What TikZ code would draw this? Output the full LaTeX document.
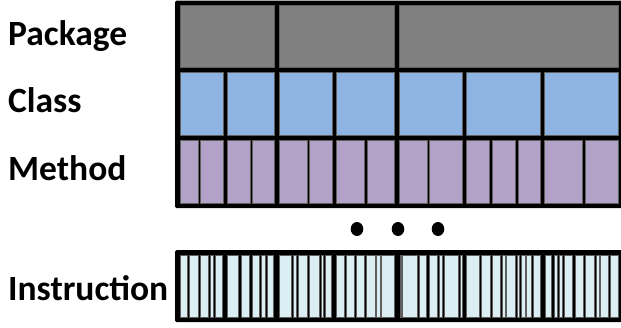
\documentclass[tikz,border=0pt]{standalone}
\usepackage{fontspec}
\setmainfont{Carlito}
\definecolor{pkg}{HTML}{808080}
\definecolor{cls}{HTML}{8EB4E3}
\definecolor{mth}{HTML}{B3A2C7}
\definecolor{ins}{HTML}{DBEEF3}
\definecolor{celledge}{HTML}{5F5F5F}
\begin{document}
\begin{tikzpicture}[x=1pt,y=-1pt,
  cellbox/.style={draw=celledge, line width=0.5pt},
  lbl/.style={anchor=base west, inner sep=0pt, font=\fontsize{35.5}{40}\selectfont\bfseries}]
\useasboundingbox (0,0) rectangle (621,327);
% top block frame
\fill[black, rounded corners=1.5pt] (175,0.5) rectangle (623,208);
\foreach \a/\b in {180/274,279/394,399/618}
  \filldraw[cellbox, fill=pkg] (\a,5) rectangle (\b,67);
\foreach \a/\b in {180/223,227/274,279/332,336/394,399/462,466/540,544/618}
  \filldraw[cellbox, fill=cls] (\a,72) rectangle (\b,135);
\foreach \a/\b in {180/198,200/223,227/250,252/274,279/307,309/332,336/364,367/394,399/427,429/462,466/489,492/515,518/540,544/582,585/618}
  \filldraw[cellbox, fill=mth] (\a,140) rectangle (\b,203);
% dots
\foreach \x in {357,398,438}
  \fill[black] (\x,229) ellipse[x radius=6.3pt, y radius=7pt];
% instruction block
\fill[black, rounded corners=1.5pt] (175,250) rectangle (623,322);
\foreach \a/\b in {180/187.5,189.5/198,200.5/208.5,210.5/213.5,215.5/222.7,
  227/238.5,241/249.5,252/259.5,261.5/265.5,267.5/273.7,
  279.3/291.5,293.5/296,298/307,309.5/319,321/323,325/331.7,
  336.7/344,346/354,356/364.3,366.7/375,376.7/380,381.7/394,
  400/401,402.7/417.3,419/426.7,429.3/437.3,439.3/442.7,444.7/458.3,460.7/462.7,
  466.7/479.3,481.7/490,492.3/500.7,502.7/505,506.7/515,517.3/519.3,521/525,526.7/531.7,533.3/540.7,
  545/551.7,554/557.3,559.3/562.7,564.3/572.7,575/583.3,585/594,596/599,600.7/608.3,610/618}
  \filldraw[cellbox, fill=ins] (\a,255) rectangle (\b,317.5);
% labels
\node[lbl] (lpkg) at (8,45.5) {Package};
\node[lbl] (lcls) at (8,112) {Class};
\node[lbl] (lmth) at (8,180) {Method};
\node[lbl] (lins) at (8,300) {Instruction};
\end{tikzpicture}
\end{document}
